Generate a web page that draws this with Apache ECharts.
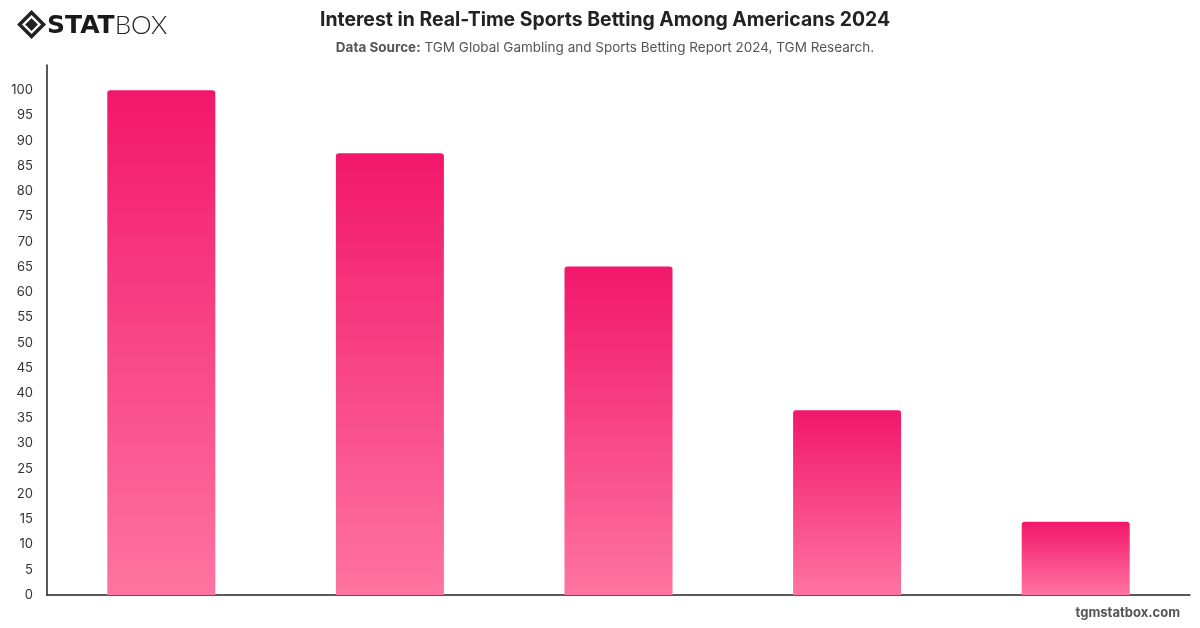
<!DOCTYPE html>
<html>
<head>
<meta charset="utf-8">
<script src="https://cdn.jsdelivr.net/npm/echarts@6/dist/echarts.min.js"></script>
<style>
  html, body { margin: 0; padding: 0; background: #fff; }
  #chart { width: 1200px; height: 628px; }
</style>
</head>
<body>
<div id="chart"></div>
<script>
// categories are not labelled in the source picture
const categories = ['1', '2', '3', '4', '5'];
const values = [100, 87.5, 65.1, 36.6, 14.5];
const yTicks = { min: 0, max: 105, interval: 5 };

const chart = echarts.init(document.getElementById('chart'));
const option = {
  backgroundColor: '#fff',
  animation: false,
  title: [
    {
      text: 'Interest in Real-Time Sports Betting Among Americans 2024',
      left: 600, top: 6, textAlign: 'center',
      textStyle: { fontFamily: 'Inter', fontSize: 19.4, fontWeight: 'bold', color: '#222' }
    },
    {
      text: '{b|Data Source:} TGM Global Gambling and Sports Betting Report 2024, TGM Research.',
      left: 600, top: 36, textAlign: 'center',
      textStyle: {
        fontFamily: 'Inter', fontSize: 13.5, fontWeight: 'normal', color: '#555',
        rich: { b: { fontFamily: 'Inter', fontSize: 13.5, fontWeight: 'bold', color: '#555' } }
      }
    }
  ],
  graphic: [
    {
      type: 'group', left: 16, top: 9,
      children: [
        { type: 'rect', shape: { x: 3, y: 3, width: 17, height: 17 }, rotation: Math.PI / 4, originX: 11.5, originY: 11.5,
          style: { fill: 'none', stroke: '#222', lineWidth: 3.5 } },
        { type: 'rect', shape: { x: 7, y: 7, width: 9, height: 9 }, rotation: Math.PI / 4, originX: 11.5, originY: 11.5,
          style: { fill: '#222' } },
        { type: 'text', left: 27, top: 0,
          style: { text: '{a|STAT}{b|BOX}', rich: {
            a: { fontFamily: 'DejaVu Sans', fontSize: 25, fontWeight: 'bold', fill: '#1a1a1a' },
            b: { fontFamily: 'Lato', fontSize: 26, fontWeight: 300, fill: '#222' }
          } } }
      ]
    },
    {
      type: 'text', right: 20, top: 607,
      style: { text: 'tgmstatbox.com', fontFamily: 'Inter', fontSize: 13, fontWeight: 'bold', fill: '#555' }
    }
  ],
  grid: { left: 47, right: 10, top: 65, bottom: 33 },
  xAxis: {
    type: 'category',
    data: categories,
    axisLine: { lineStyle: { color: '#222', width: 1.5 } },
    axisTick: { show: false },
    axisLabel: { show: false }
  },
  yAxis: {
    type: 'value',
    min: yTicks.min, max: yTicks.max, interval: yTicks.interval,
    axisLine: { show: true, lineStyle: { color: '#222', width: 1.5 } },
    axisTick: { show: false },
    splitLine: { show: false },
    axisLabel: {
      color: '#333', fontFamily: 'Inter', fontSize: 13, margin: 14,
      formatter: v => (v > 100 ? '' : v)
    }
  },
  series: [{
    type: 'bar',
    data: values,
    barWidth: 108,
    itemStyle: {
      borderRadius: [3, 3, 0, 0],
      color: new echarts.graphic.LinearGradient(0, 0, 0, 1, [
        { offset: 0, color: '#f2176a' },
        { offset: 1, color: '#fe74a1' }
      ])
    }
  }]
};
chart.setOption(option);
</script>
</body>
</html>
